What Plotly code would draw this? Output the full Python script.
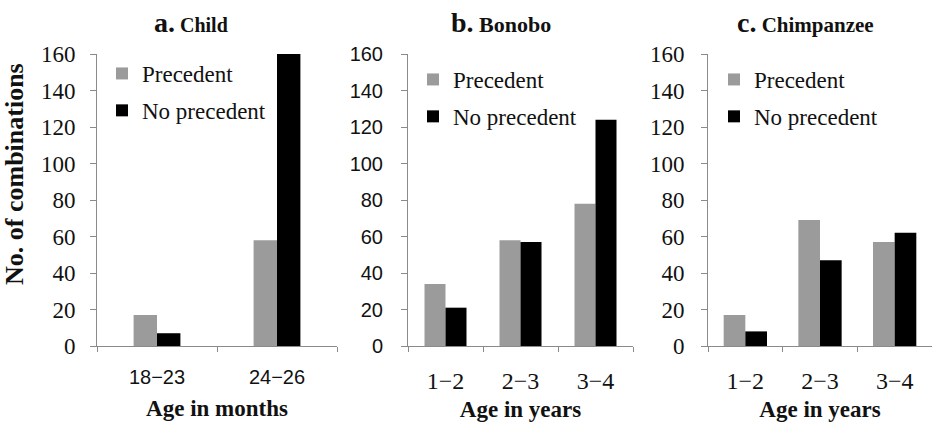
import plotly.graph_objects as go

# ---------------- data ----------------
child_ages = ["18\u221223", "24\u221226"]
child_prec = [17, 58]
child_noprec = [7, 160]

ape_ages = ["1\u22122", "2\u22123", "3\u22124"]
bonobo_prec = [34, 58, 78]
bonobo_noprec = [21, 57, 124]
chimp_prec = [17, 69, 57]
chimp_noprec = [8, 47, 62]

series_names = ["Precedent", "No precedent"]
y_tickvals = [0, 20, 40, 60, 80, 100, 120, 140, 160]

# ---------------- style ----------------
GRAY = "#9b9b9b"
BLACK = "#000000"
AXIS = "#8a8a8a"
TXT = "#111111"
SERIF = "Liberation Serif, Times New Roman, serif"
SANS = "Liberation Sans, Arial, sans-serif"

W, H = 932, 422
def px(x):
    return x / W
def py(y):
    return 1 - y / H

panels = [
    dict(cats=child_ages, prec=child_prec, nop=child_noprec, w=0.195,
         xd=[px(97), px(337)], xs="x", ys="y", leg="legend",
         ytf=SERIF, yts=23, yso=10, xtf=SANS, xts=20, xso=13, tso=12,
         xtitle="Age in months"),
    dict(cats=ape_ages, prec=bonobo_prec, nop=bonobo_noprec, w=0.28,
         xd=[px(408), px(633)], xs="x2", ys="y2", leg="legend2",
         ytf=SANS, yts=20, yso=14, xtf=SERIF, xts=24, xso=13, tso=9,
         xtitle="Age in years"),
    dict(cats=ape_ages, prec=chimp_prec, nop=chimp_noprec, w=0.29,
         xd=[px(708), 1.0], xs="x3", ys="y3", leg="legend3",
         ytf=SERIF, yts=23, yso=12, xtf=SERIF, xts=24, xso=13, tso=9,
         xtitle="Age in years"),
]

fig = go.Figure()
ydom = [py(346), py(54)]

for i, p in enumerate(panels):
    fig.add_trace(go.Bar(x=p["cats"], y=p["prec"], name=series_names[0],
                         marker=dict(color=GRAY, line=dict(width=0)),
                         width=p["w"], offset=-p["w"], legendgroup="prec",
                         xaxis=p["xs"], yaxis=p["ys"], legend=p["leg"]))
    fig.add_trace(go.Bar(x=p["cats"], y=p["nop"], name=series_names[1],
                         marker=dict(color=BLACK, line=dict(width=0)),
                         width=p["w"], offset=0, legendgroup="noprec",
                         xaxis=p["xs"], yaxis=p["ys"], legend=p["leg"]))
    sfx = "" if i == 0 else str(i + 1)
    fig.layout["xaxis" + sfx] = dict(
        domain=p["xd"], anchor="y" + sfx, type="category", automargin=False,
        showline=True, linecolor=AXIS, linewidth=1,
        ticks="outside", tickson="boundaries", ticklen=5, tickcolor=AXIS,
        ticklabelstandoff=p["xso"],
        tickfont=dict(family=p["xtf"], size=p["xts"], color=TXT),
        showgrid=False, zeroline=False, fixedrange=True,
        title=dict(text="<b>" + p["xtitle"] + "</b>",
                   font=dict(family=SERIF, size=23, color=TXT), standoff=p["tso"]),
    )
    fig.layout["yaxis" + sfx] = dict(
        domain=ydom, anchor="x" + sfx, range=[0, 160], automargin=False,
        tickvals=y_tickvals, showline=True, linecolor=AXIS, linewidth=1,
        ticks="outside", ticklen=6, tickcolor=AXIS, ticklabelstandoff=p["yso"],
        tickfont=dict(family=p["ytf"], size=p["yts"], color=TXT),
        showgrid=False, zeroline=False, fixedrange=True,
    )

leg_common = dict(bgcolor="rgba(0,0,0,0)", borderwidth=0, xanchor="left",
                  yanchor="top", font=dict(family=SERIF, size=23, color=TXT),
                  traceorder="grouped", tracegroupgap=4, itemclick=False)
fig.update_layout(
    legend=dict(x=px(102), y=py(52), **leg_common),
    legend2=dict(x=px(413), y=py(58), **leg_common),
    legend3=dict(x=px(714), y=py(58), **leg_common),
)

titles = [("a.", "Child", 191, 20), ("b.", "Bonobo", 501, 22), ("c.", "Chimpanzee", 805, 21)]
for letter, name, cx, fs in titles:
    fig.add_annotation(
        x=px(cx), y=py(23), xref="paper", yref="paper", showarrow=False,
        xanchor="center", yanchor="middle",
        text="<b><span style='font-size:28px'>" + letter + "</span> " + name + "</b>",
        font=dict(family=SERIF, size=fs, color=TXT),
    )

fig.add_annotation(
    x=px(15), y=py(174), xref="paper", yref="paper", showarrow=False,
    xanchor="center", yanchor="middle",
    text="<b>No. of combinations</b>", textangle=-90,
    font=dict(family=SERIF, size=26, color=TXT),
)

fig.update_layout(
    width=W, height=H, margin=dict(l=0, r=0, t=0, b=0, autoexpand=False),
    paper_bgcolor="white", plot_bgcolor="white",
    barmode="overlay", showlegend=True,
)

fig.write_html("out.html", config={"displayModeBar": False},
               post_script="document.body.style.margin='0';")
